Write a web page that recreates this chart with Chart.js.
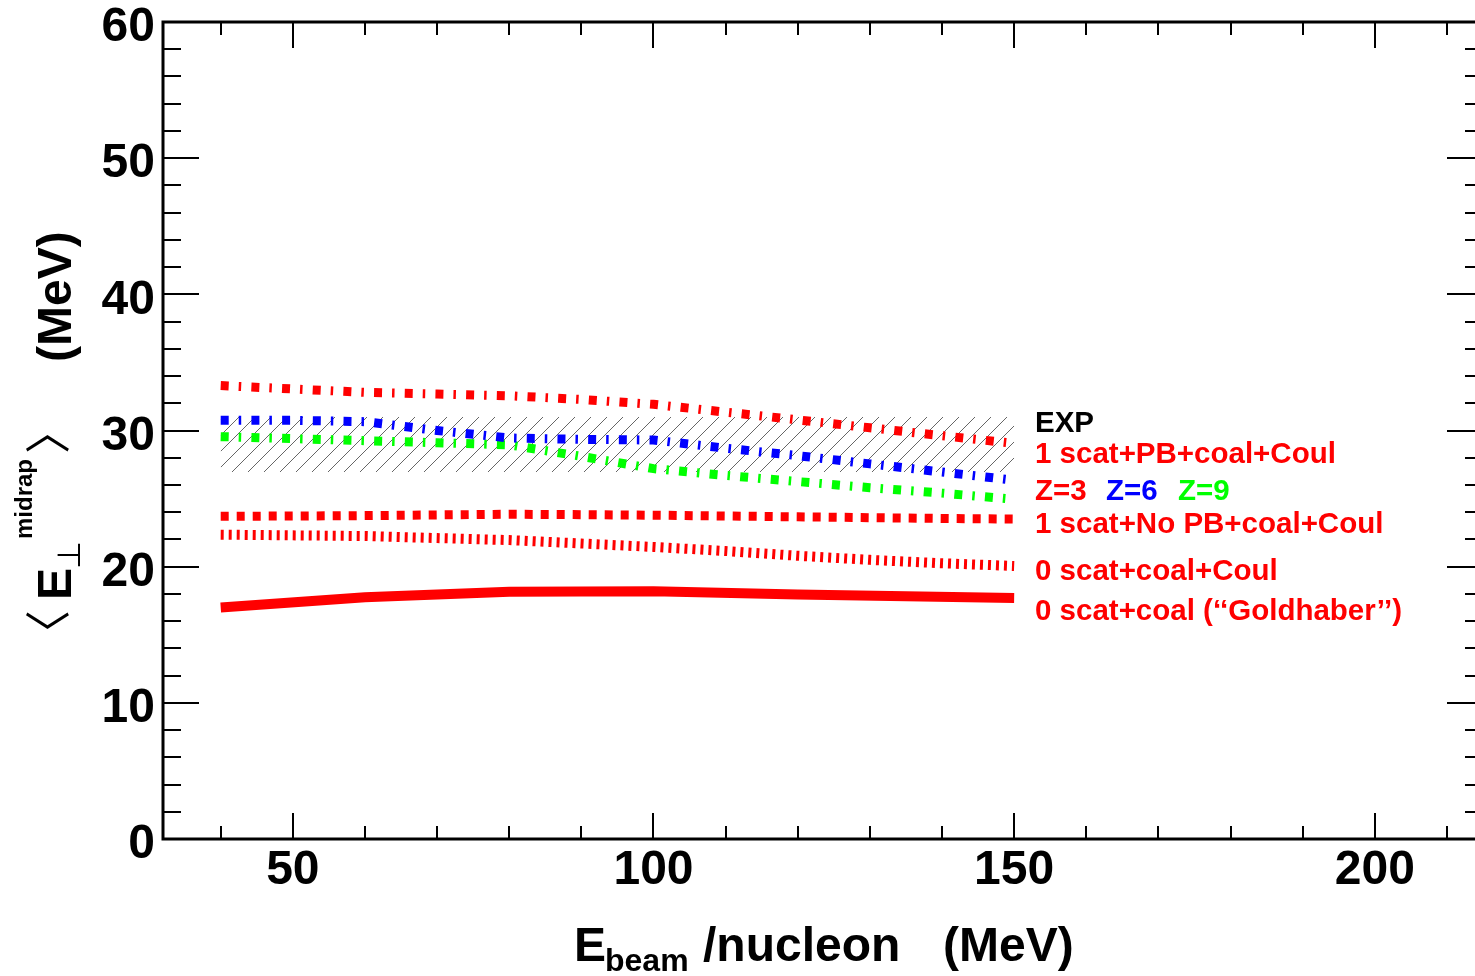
<!DOCTYPE html>
<html>
<head>
<meta charset="utf-8">
<script src="https://cdn.jsdelivr.net/npm/chart.js@4/dist/chart.umd.min.js"></script>
<style>
  html, body { margin: 0; padding: 0; background: #fff; overflow: hidden; }
  canvas { display: block; }
</style>
</head>
<body>
<!-- the frame's right edge sits just past the window edge -->
<canvas id="c" width="1483" height="976"></canvas>
<script>
// Beam energy per nucleon (MeV) for the model curves
const energies = [40, 50, 60, 70, 80, 90, 100, 110, 120, 130, 140, 150];

// 1 scat + PB + coal + Coul, per fragment charge
const z3PB = [33.3, 33.05, 32.8, 32.68, 32.55, 32.28, 31.92, 31.35, 30.78, 30.2, 29.62, 29.05];
const z6PB = [30.75, 30.75, 30.65, 30.0, 29.45, 29.35, 29.3, 28.7, 28.15, 27.55, 26.95, 26.35];
const z9PB = [29.55, 29.4, 29.25, 29.1, 28.95, 28.1, 27.2, 26.7, 26.25, 25.8, 25.4, 24.95];

// 1 scat + No PB + coal + Coul
const noPB = [23.7, 23.72, 23.75, 23.8, 23.85, 23.82, 23.78, 23.72, 23.66, 23.6, 23.54, 23.5];

// 0 scat + coal + Coul
const scat0Coul = [22.35, 22.3, 22.25, 22.1, 21.95, 21.7, 21.45, 21.15, 20.8, 20.5, 20.25, 20.05];

// 0 scat + coal ("Goldhaber")
const goldEnergies = [40, 60, 80, 100, 120, 150];
const goldhaber = [17.0, 17.75, 18.15, 18.2, 17.95, 17.7];

// Experimental band
const expEnergies = [40, 150];
const expHigh = [31.0, 31.0];
const expLow = [26.95, 26.95];

// Axis tick labels
const xTickValues = [50, 100, 150, 200];
const yTickValues = [0, 10, 20, 30, 40, 50, 60];

const SANS = "'Liberation Sans', Arial, Helvetica, sans-serif";
const CJK = "'Noto Sans CJK JP', 'Noto Sans CJK SC', sans-serif";
const RED = '#ff0000', BLUE = '#0000ff', GREEN = '#00ff00';

function series(xs, ys, color, width, dash) {
  return {
    data: xs.map((x, i) => ({ x: x, y: ys[i] })),
    borderColor: color,
    borderWidth: width,
    borderDash: dash,
    borderCapStyle: 'butt',
    borderJoinStyle: 'miter',
    pointRadius: 0,
    tension: 0,
    fill: false
  };
}

function hatchPattern() {
  const c = document.createElement('canvas');
  c.width = 16; c.height = 16;
  const g = c.getContext('2d');
  g.strokeStyle = '#666';
  g.lineWidth = 1;
  g.beginPath();
  g.moveTo(-2, 18); g.lineTo(18, -2);
  g.moveTo(-2, 2); g.lineTo(2, -2);
  g.moveTo(14, 18); g.lineTo(18, 14);
  g.stroke();
  return g.createPattern(c, 'repeat');
}

// Frame, inward ticks, in-plot labels and axis titles
const decorations = {
  id: 'decorations',
  afterDraw(chart) {
    const ctx = chart.ctx;
    const a = chart.chartArea;
    const xs = chart.scales.x, ys = chart.scales.y;
    ctx.save();
    ctx.strokeStyle = '#000';

    // ticks
    ctx.lineWidth = 2;
    ctx.beginPath();
    for (let v = 40; v <= 210; v += 10) {
      const px = Math.round(xs.getPixelForValue(v));
      const len = (v % 50 === 0) ? 26 : 13;
      ctx.moveTo(px, a.bottom); ctx.lineTo(px, a.bottom - len);
      ctx.moveTo(px, a.top); ctx.lineTo(px, a.top + len);
    }
    for (let v = 0; v <= 60; v += 2) {
      const py = Math.round(ys.getPixelForValue(v));
      const len = (v % 10 === 0) ? 36 : 18;
      ctx.moveTo(a.left, py); ctx.lineTo(a.left + len, py);
      ctx.moveTo(a.right, py); ctx.lineTo(a.right - len, py);
    }
    ctx.stroke();

    // frame
    ctx.lineWidth = 3;
    ctx.strokeRect(a.left, a.top, a.right - a.left, a.bottom - a.top);

    // in-plot labels
    ctx.textBaseline = 'alphabetic';
    ctx.textAlign = 'left';
    ctx.font = 'bold 29.5px ' + SANS;
    const lx = 1035;
    ctx.fillStyle = '#000';
    ctx.fillText('EXP', lx, 432);
    ctx.fillStyle = RED;
    ctx.fillText('1 scat+PB+coal+Coul', lx, 463);
    ctx.fillText('Z=3', lx, 500);
    ctx.fillStyle = BLUE;
    ctx.fillText('Z=6', 1106, 500);
    ctx.fillStyle = GREEN;
    ctx.fillText('Z=9', 1178, 500);
    ctx.fillStyle = RED;
    ctx.fillText('1 scat+No PB+coal+Coul', lx, 533);
    ctx.fillText('0 scat+coal+Coul', lx, 580);
    ctx.fillText('0 scat+coal (\u2018\u2018Goldhaber\u2019\u2019)', lx, 620);

    // x-axis title
    ctx.fillStyle = '#000';
    ctx.font = 'bold 48px ' + SANS;
    ctx.fillText('E', 574, 961);
    ctx.fillText('/nucleon', 703, 961);
    ctx.fillText('(MeV)', 943, 961);
    ctx.font = 'bold 32px ' + SANS;
    ctx.fillText('beam', 605, 971);

    // y-axis title, reading bottom to top
    ctx.rotate(-Math.PI / 2);
    const rot = (txt, font, yStart, xBase) => {
      ctx.font = font;
      ctx.fillText(txt, -yStart, xBase);
    };
    rot('\u3008', '46px ' + CJK, 656, 64);
    rot('E', 'bold 48px ' + SANS, 600, 71);
    rot('\u22A5', '32px "DejaVu Sans"', 569, 80);
    rot('midrap', 'bold 24px ' + SANS, 539, 32);
    rot('\u3009', '46px ' + CJK, 454, 64);
    rot('(MeV)', 'bold 48px ' + SANS, 362, 71);
    ctx.restore();
  }
};

const tickFont = { family: SANS, size: 48, weight: 'bold' };

new Chart(document.getElementById('c'), {
  type: 'line',
  data: {
    datasets: [
      series(goldEnergies, goldhaber, RED, 10, []),
      series(energies, scat0Coul, RED, 10, [3, 5]),
      series(energies, noPB, RED, 9, [8, 8]),
      series(energies, z3PB, RED, 9, [8, 10, 2.5, 10.2]),
      series(energies, z6PB, BLUE, 9, [8, 10, 2.5, 10.2]),
      series(energies, z9PB, GREEN, 9, [8, 10, 2.5, 10.2]),
      {
        data: expEnergies.map((x, i) => ({ x: x, y: expHigh[i] })),
        borderWidth: 0, borderColor: 'rgba(0,0,0,0)', pointRadius: 0, tension: 0, fill: false
      },
      {
        data: expEnergies.map((x, i) => ({ x: x, y: expLow[i] })),
        borderWidth: 0, borderColor: 'rgba(0,0,0,0)', pointRadius: 0, tension: 0,
        fill: '-1', backgroundColor: hatchPattern()
      }
    ]
  },
  options: {
    responsive: false,
    animation: false,
    devicePixelRatio: 1,
    layout: { padding: { top: 22, right: 0, left: 0, bottom: 0 } },
    plugins: { legend: { display: false }, tooltip: { enabled: false } },
    scales: {
      x: {
        type: 'linear', min: 32, max: 215,
        grid: { display: false, drawTicks: false },
        border: { display: false },
        ticks: { font: tickFont, color: '#000', padding: 3, maxRotation: 0, autoSkip: false },
        afterBuildTicks: s => { s.ticks = xTickValues.map(v => ({ value: v })); },
        afterFit: s => { s.height = 137; s.paddingLeft = 0; s.paddingRight = 0; }
      },
      y: {
        type: 'linear', min: 0, max: 60,
        grid: { display: false, drawTicks: false },
        border: { display: false },
        ticks: { font: tickFont, color: '#000', padding: 8, labelOffset: 6, autoSkip: false },
        afterBuildTicks: s => { s.ticks = yTickValues.map(v => ({ value: v })); },
        afterFit: s => { s.width = 163; s.paddingTop = 0; s.paddingBottom = 0; }
      }
    }
  },
  plugins: [decorations]
});
</script>
</body>
</html>
